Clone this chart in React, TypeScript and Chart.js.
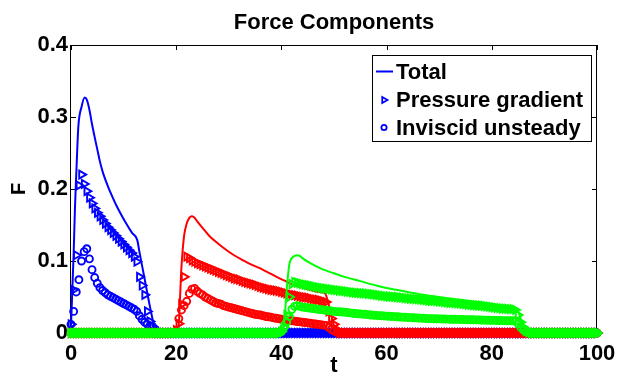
import React, { useEffect, useRef } from 'react';
import { Chart, registerables } from 'chart.js';

Chart.register(...registerables);

// ---------- DATA ----------
const chartTitle = 'Force Components';
const xLabel = 't';
const yLabel = 'F';
const legendLabels = ['Total', 'Pressure gradient', 'Inviscid unsteady'];
const xTickLabels = ['0', '20', '40', '60', '80', '100'];
const yTickLabels = ['0', '0.1', '0.2', '0.3', '0.4'];

// sampling grid of the time series
const tGrid = [
  0, 0.5, 1, 1.5, 2, 2.5, 3, 3.5, 4, 4.5, 5, 5.5, 6, 6.5, 7, 7.5, 8, 8.5, 9, 9.5,
  10, 10.5, 11, 11.5, 12, 12.5, 13, 13.5, 14, 14.5, 15, 15.5, 16, 16.5, 17, 17.5, 18, 18.5, 19, 19.5,
  20, 20.5, 21, 21.5, 22, 22.5, 23, 23.5, 24, 24.5, 25, 25.5, 26, 26.5, 27, 27.5, 28, 28.5, 29, 29.5,
  30, 30.5, 31, 31.5, 32, 32.5, 33, 33.5, 34, 34.5, 35, 35.5, 36, 36.5, 37, 37.5, 38, 38.5, 39, 39.5,
  40, 40.5, 41, 41.5, 42, 42.5, 43, 43.5, 44, 44.5, 45, 45.5, 46, 46.5, 47, 47.5, 48, 48.5, 49, 49.5,
  50, 50.5, 51, 51.5, 52, 52.5, 53, 53.5, 54, 54.5, 55, 55.5, 56, 56.5, 57, 57.5, 58, 58.5, 59, 59.5,
  60, 60.5, 61, 61.5, 62, 62.5, 63, 63.5, 64, 64.5, 65, 65.5, 66, 66.5, 67, 67.5, 68, 68.5, 69, 69.5,
  70, 70.5, 71, 71.5, 72, 72.5, 73, 73.5, 74, 74.5, 75, 75.5, 76, 76.5, 77, 77.5, 78, 78.5, 79, 79.5,
  80, 80.5, 81, 81.5, 82, 82.5, 83, 83.5, 84, 84.5, 85, 85.5, 86, 86.5, 87, 87.5, 88, 88.5, 89, 89.5,
  90, 90.5, 91, 91.5, 92, 92.5, 93, 93.5, 94, 94.5, 95, 95.5, 96, 96.5, 97, 97.5, 98, 98.5, 99, 99.5,
  100,
];

// ----- blue (first pulse) -----
const blueStart = 0;
const blueTotalT = [0, 0.5, 0.76, 1, 1.4, 2, 2.6, 3, 3.5, 4, 4.5, 5, 5.5, 6.1, 7, 8, 8.7, 9.5, 10.5, 11.6, 12.6, 13, 14, 15, 16, 16.5];
const blueTotal = [0.01, 0.11, 0.175, 0.22, 0.287, 0.314, 0.327, 0.324, 0.31, 0.29, 0.272, 0.255, 0.238, 0.222, 0.204, 0.187, 0.176, 0.165, 0.152, 0.139, 0.129, 0.113, 0.075, 0.037, 0.005, 0];
const bluePressure = [
  0.012, 0.06, 0.108, 0.205, 0.22, 0.207, 0.197, 0.188, 0.18, 0.173, 0.167, 0.162, 0.157, 0.152, 0.147, 0.143,
  0.139, 0.135, 0.131, 0.127, 0.123, 0.119, 0.115, 0.111, 0.106, 0.099, 0.078, 0.066, 0.053, 0.03, 0.016, 0.009, 0.004,
];
const blueInviscid = [
  0.012, 0.03, 0.057, 0.074, 0.1, 0.113, 0.117, 0.103, 0.088, 0.077, 0.069, 0.063, 0.059, 0.056, 0.053, 0.051,
  0.049, 0.047, 0.045, 0.043, 0.041, 0.039, 0.037, 0.035, 0.033, 0.03, 0.024, 0.019, 0.015, 0.012, 0.01, 0.009, 0.005,
];

// ----- red (second pulse) -----
const redStart = 20;
const redTotalT = [20, 20.4, 21, 21.5, 22, 22.5, 23, 23.5, 24, 25, 26.4, 28, 29.6, 31, 32.7, 34, 35.9, 37.5, 39.1, 40.5, 42.2, 44, 45.4, 47, 48.3, 48.8, 49.3, 49.8, 50.5];
const redTotal = [0, 0.005, 0.092, 0.135, 0.152, 0.16, 0.162, 0.16, 0.155, 0.146, 0.134, 0.124, 0.115, 0.108, 0.101, 0.096, 0.09, 0.084, 0.078, 0.073, 0.067, 0.063, 0.06, 0.057, 0.055, 0.045, 0.03, 0.015, 0];
const redPressure = [
  0.004, 0.013, 0.04, 0.078, 0.106, 0.104, 0.101, 0.099, 0.097, 0.0955, 0.094, 0.0925, 0.091, 0.0895, 0.088, 0.0865,
  0.085, 0.0835, 0.082, 0.0805, 0.079, 0.0775, 0.076, 0.075, 0.074, 0.0725, 0.071, 0.07, 0.069, 0.068, 0.067, 0.0655,
  0.064, 0.063, 0.062, 0.061, 0.06, 0.0595, 0.059, 0.058, 0.057, 0.056, 0.055, 0.054, 0.053, 0.0525, 0.052, 0.051,
  0.05, 0.0495, 0.049, 0.048, 0.047, 0.0465, 0.046, 0.045, 0.044, 0.043, 0.03, 0.02, 0.012, 0.005, 0.001,
];
const redInviscid = [
  0.003, 0.02, 0.032, 0.038, 0.044, 0.055, 0.061, 0.062, 0.058, 0.055, 0.053, 0.05, 0.048, 0.046, 0.044, 0.042,
  0.041, 0.04, 0.038, 0.037, 0.036, 0.035, 0.034, 0.033, 0.032, 0.031, 0.03, 0.029, 0.028, 0.027, 0.026, 0.0255,
  0.025, 0.024, 0.023, 0.0225, 0.022, 0.021, 0.0205, 0.02, 0.019, 0.0185, 0.018, 0.0175, 0.017, 0.0165, 0.016, 0.0155,
  0.015, 0.0145, 0.014, 0.0135, 0.013, 0.0125, 0.012, 0.0115, 0.011, 0.0105, 0.008, 0.005, 0.003, 0.001,
];

// ----- green (third pulse) -----
const greenStart = 40;
const greenTotalT = [40, 40.5, 41, 41.5, 42, 42.5, 43, 43.5, 44, 45, 46, 48, 50, 52, 55, 58, 61, 64, 67, 70, 73, 76, 79, 82, 84.3, 85, 85.5, 86, 86.5, 87];
const greenTotal = [0, 0.01, 0.06, 0.095, 0.104, 0.107, 0.108, 0.107, 0.104, 0.099, 0.095, 0.088, 0.083, 0.078, 0.072, 0.066, 0.061, 0.057, 0.053, 0.05, 0.047, 0.044, 0.041, 0.038, 0.036, 0.03, 0.02, 0.01, 0.004, 0];
const greenPressure = [
  0.002, 0.008, 0.025, 0.05, 0.068, 0.071, 0.07, 0.069, 0.068, 0.0672, 0.0665, 0.0657, 0.065, 0.0642, 0.0635, 0.0627,
  0.062, 0.0615, 0.061, 0.0605, 0.06, 0.0595, 0.059, 0.0585, 0.058, 0.0575, 0.057, 0.0565, 0.056, 0.0557, 0.0555, 0.0552,
  0.055, 0.0545, 0.054, 0.0535, 0.053, 0.0525, 0.052, 0.0515, 0.051, 0.0507, 0.0505, 0.0502, 0.05, 0.0495, 0.049, 0.0485,
  0.048, 0.0477, 0.0475, 0.0472, 0.047, 0.0465, 0.046, 0.0455, 0.045, 0.0447, 0.0445, 0.0442, 0.044, 0.0435, 0.043, 0.0425,
  0.042, 0.0417, 0.0415, 0.0412, 0.041, 0.0405, 0.04, 0.0395, 0.039, 0.0387, 0.0385, 0.0382, 0.038, 0.0375, 0.037, 0.0365,
  0.036, 0.0355, 0.035, 0.0345, 0.034, 0.0337, 0.0335, 0.0332, 0.033, 0.032, 0.025, 0.015, 0.008, 0.003, 0.001,
];
const greenInviscid = [
  0.002, 0.008, 0.015, 0.023, 0.033, 0.037, 0.038, 0.037, 0.036, 0.0355, 0.035, 0.0345, 0.034, 0.0335, 0.033, 0.0325,
  0.032, 0.0315, 0.031, 0.0305, 0.03, 0.0297, 0.0295, 0.0292, 0.029, 0.0285, 0.028, 0.0275, 0.027, 0.0267, 0.0265, 0.0262,
  0.026, 0.0255, 0.025, 0.0247, 0.0245, 0.0242, 0.024, 0.0237, 0.0235, 0.0232, 0.023, 0.0227, 0.0225, 0.0222, 0.022, 0.0218,
  0.0216, 0.0214, 0.0212, 0.021, 0.0208, 0.0206, 0.0204, 0.0202, 0.02, 0.0199, 0.0198, 0.0197, 0.0196, 0.0195, 0.0194, 0.0193,
  0.0192, 0.0191, 0.019, 0.0189, 0.0188, 0.0187, 0.0186, 0.0185, 0.0184, 0.0183, 0.0182, 0.0181, 0.018, 0.0179, 0.0178, 0.0177,
  0.0176, 0.0175, 0.0174, 0.0173, 0.0172, 0.0171, 0.017, 0.017, 0.017, 0.0168, 0.013, 0.008, 0.004, 0.002, 0.001,
];

// ---------- helpers ----------
const FONT = '"Liberation Sans", Arial, Helvetica, sans-serif';

function markerSeries(start: number, vals: number[]) {
  const i0 = tGrid.indexOf(start);
  return tGrid.map((t, i) => {
    const k = i - i0;
    return { x: t, y: k >= 0 && k < vals.length ? vals[k] : 0 };
  });
}

function lineSeries(ts: number[], vals: number[]) {
  const pts = ts.map((t, i) => ({ x: t, y: vals[i] }));
  if (ts[0] > tGrid[0]) pts.unshift({ x: tGrid[0], y: 0 });
  pts.push({ x: tGrid[tGrid.length - 1], y: 0 });
  return pts;
}

const groups = [
  { color: '#0000ff', order: 3, totalT: blueTotalT, total: blueTotal, start: blueStart, pg: bluePressure, iu: blueInviscid },
  { color: '#ff0000', order: 2, totalT: redTotalT, total: redTotal, start: redStart, pg: redPressure, iu: redInviscid },
  { color: '#00ff00', order: 1, totalT: greenTotalT, total: greenTotal, start: greenStart, pg: greenPressure, iu: greenInviscid },
];

const framePlugin = {
  id: 'matlabFrame',
  beforeDatasetsDraw(chart: any) {
    const { ctx, chartArea, scales } = chart;
    const { left, right, top, bottom } = chartArea;
    ctx.save();
    ctx.strokeStyle = '#000';
    ctx.lineWidth = 1;
    ctx.strokeRect(Math.round(left) - 0.5, Math.round(top) + 0.5, Math.round(right - left), Math.round(bottom - top));
    const tl = 5;
    ctx.beginPath();
    scales.x.ticks.forEach((tk: any) => {
      const px = Math.round(scales.x.getPixelForValue(tk.value)) + 0.5;
      ctx.moveTo(px, bottom);
      ctx.lineTo(px, bottom - tl);
      ctx.moveTo(px, top);
      ctx.lineTo(px, top + tl);
    });
    scales.y.ticks.forEach((tk: any) => {
      const py = Math.round(scales.y.getPixelForValue(tk.value)) + 0.5;
      ctx.moveTo(left, py);
      ctx.lineTo(left + tl, py);
      ctx.moveTo(right, py);
      ctx.lineTo(right - tl, py);
    });
    ctx.stroke();
    ctx.restore();
  },
  afterDraw(chart: any) {
    const { ctx, chartArea } = chart;
    const { left, right, top, bottom } = chartArea;
    const cx = (left + right) / 2;
    ctx.save();
    ctx.fillStyle = '#000';
    ctx.font = `bold 22px ${FONT}`;
    ctx.textAlign = 'center';
    ctx.textBaseline = 'middle';
    ctx.fillText(chartTitle, cx, 23);
    ctx.fillText(xLabel, cx, 366);
    ctx.save();
    ctx.translate(19, (top + bottom) / 2);
    ctx.rotate(-Math.PI / 2);
    ctx.font = `bold 20px ${FONT}`;
    ctx.fillText(yLabel, 0, 0);
    ctx.restore();

    // legend
    const bx = 372.5, by = 55.5, bw = 219, bh = 86;
    ctx.fillStyle = '#fff';
    ctx.fillRect(bx, by, bw, bh);
    ctx.strokeStyle = '#000';
    ctx.lineWidth = 1;
    ctx.strokeRect(bx, by, bw, bh);
    const c = groups[0].color;
    const rows = [71.5, 100, 127.5];
    ctx.strokeStyle = c;
    ctx.lineWidth = 2;
    ctx.beginPath();
    ctx.moveTo(376, rows[0]);
    ctx.lineTo(393, rows[0]);
    ctx.stroke();
    ctx.lineWidth = 1.8;
    const r = 3.5;
    ctx.beginPath();
    ctx.moveTo(384 + r, rows[1]);
    ctx.lineTo(384 - r / 2, rows[1] - r * 0.866);
    ctx.lineTo(384 - r / 2, rows[1] + r * 0.866);
    ctx.closePath();
    ctx.stroke();
    ctx.beginPath();
    ctx.arc(384, rows[2], 2.6, 0, Math.PI * 2);
    ctx.stroke();
    ctx.fillStyle = '#000';
    ctx.textAlign = 'left';
    legendLabels.forEach((lab, i) => ctx.fillText(lab, 396, rows[i] + 1));
    ctx.restore();
  },
};

export default function App() {
  const ref = useRef<HTMLCanvasElement | null>(null);

  useEffect(() => {
    document.body.style.margin = '0';
    const canvas = ref.current;
    if (!canvas) return;

    const datasets: any[] = [];
    groups.forEach((g) => {
      datasets.push({
        label: legendLabels[0],
        data: lineSeries(g.totalT, g.total),
        showLine: true,
        borderColor: g.color,
        backgroundColor: g.color,
        borderWidth: 2,
        pointRadius: 0,
        cubicInterpolationMode: 'monotone',
        order: g.order,
        clip: false,
      });
      datasets.push({
        label: legendLabels[1],
        data: markerSeries(g.start, g.pg),
        showLine: false,
        pointStyle: 'triangle',
        pointRotation: 90,
        pointRadius: 4.6,
        pointBorderColor: g.color,
        borderColor: g.color,
        pointBackgroundColor: 'rgba(0,0,0,0)',
        backgroundColor: 'rgba(0,0,0,0)',
        pointBorderWidth: 1.9,
        order: g.order,
        clip: false,
      });
      datasets.push({
        label: legendLabels[2],
        data: markerSeries(g.start, g.iu),
        showLine: false,
        pointStyle: 'circle',
        pointRadius: 3.5,
        pointBorderColor: g.color,
        borderColor: g.color,
        pointBackgroundColor: 'rgba(0,0,0,0)',
        backgroundColor: 'rgba(0,0,0,0)',
        pointBorderWidth: 1.9,
        order: g.order,
        clip: false,
      });
    });

    const tickFont = { family: FONT, size: 22, weight: 'bold' as const };

    const chart = new Chart(canvas, {
      type: 'scatter',
      data: { datasets },
      options: {
        animation: false,
        responsive: false,
        devicePixelRatio: 1,
        events: [],
        layout: { padding: { top: 45, right: 31, left: 0, bottom: 0 } },
        plugins: {
          legend: { display: false },
          tooltip: { enabled: false },
          title: { display: false },
        },
        scales: {
          x: {
            type: 'linear',
            min: 0,
            max: 100,
            afterFit: (s: any) => { s.height = 44; },
            afterBuildTicks: (s: any) => {
              s.ticks = xTickLabels.map((l) => ({ value: Number(l) }));
            },
            ticks: {
              callback: (_v: any, i: number) => xTickLabels[i],
              font: tickFont,
              color: '#000',
              padding: 8,
              maxRotation: 0,
              autoSkip: false,
            },
            grid: { display: false, drawTicks: false },
            border: { display: false },
          },
          y: {
            type: 'linear',
            min: 0,
            max: 0.4,
            afterFit: (s: any) => { s.width = 71; },
            afterBuildTicks: (s: any) => {
              s.ticks = yTickLabels.map((l) => ({ value: Number(l) }));
            },
            ticks: {
              callback: (_v: any, i: number) => yTickLabels[i],
              font: tickFont,
              color: '#000',
              padding: 3,
              autoSkip: false,
            },
            grid: { display: false, drawTicks: false },
            border: { display: false },
          },
        },
      },
      plugins: [framePlugin],
    });

    return () => chart.destroy();
  }, []);

  return (
    <div style={{ position: 'absolute', left: 0, top: 0, width: 628, height: 377, background: '#fff' }}>
      <canvas ref={ref} width={628} height={377} style={{ display: 'block' }} />
    </div>
  );
}
